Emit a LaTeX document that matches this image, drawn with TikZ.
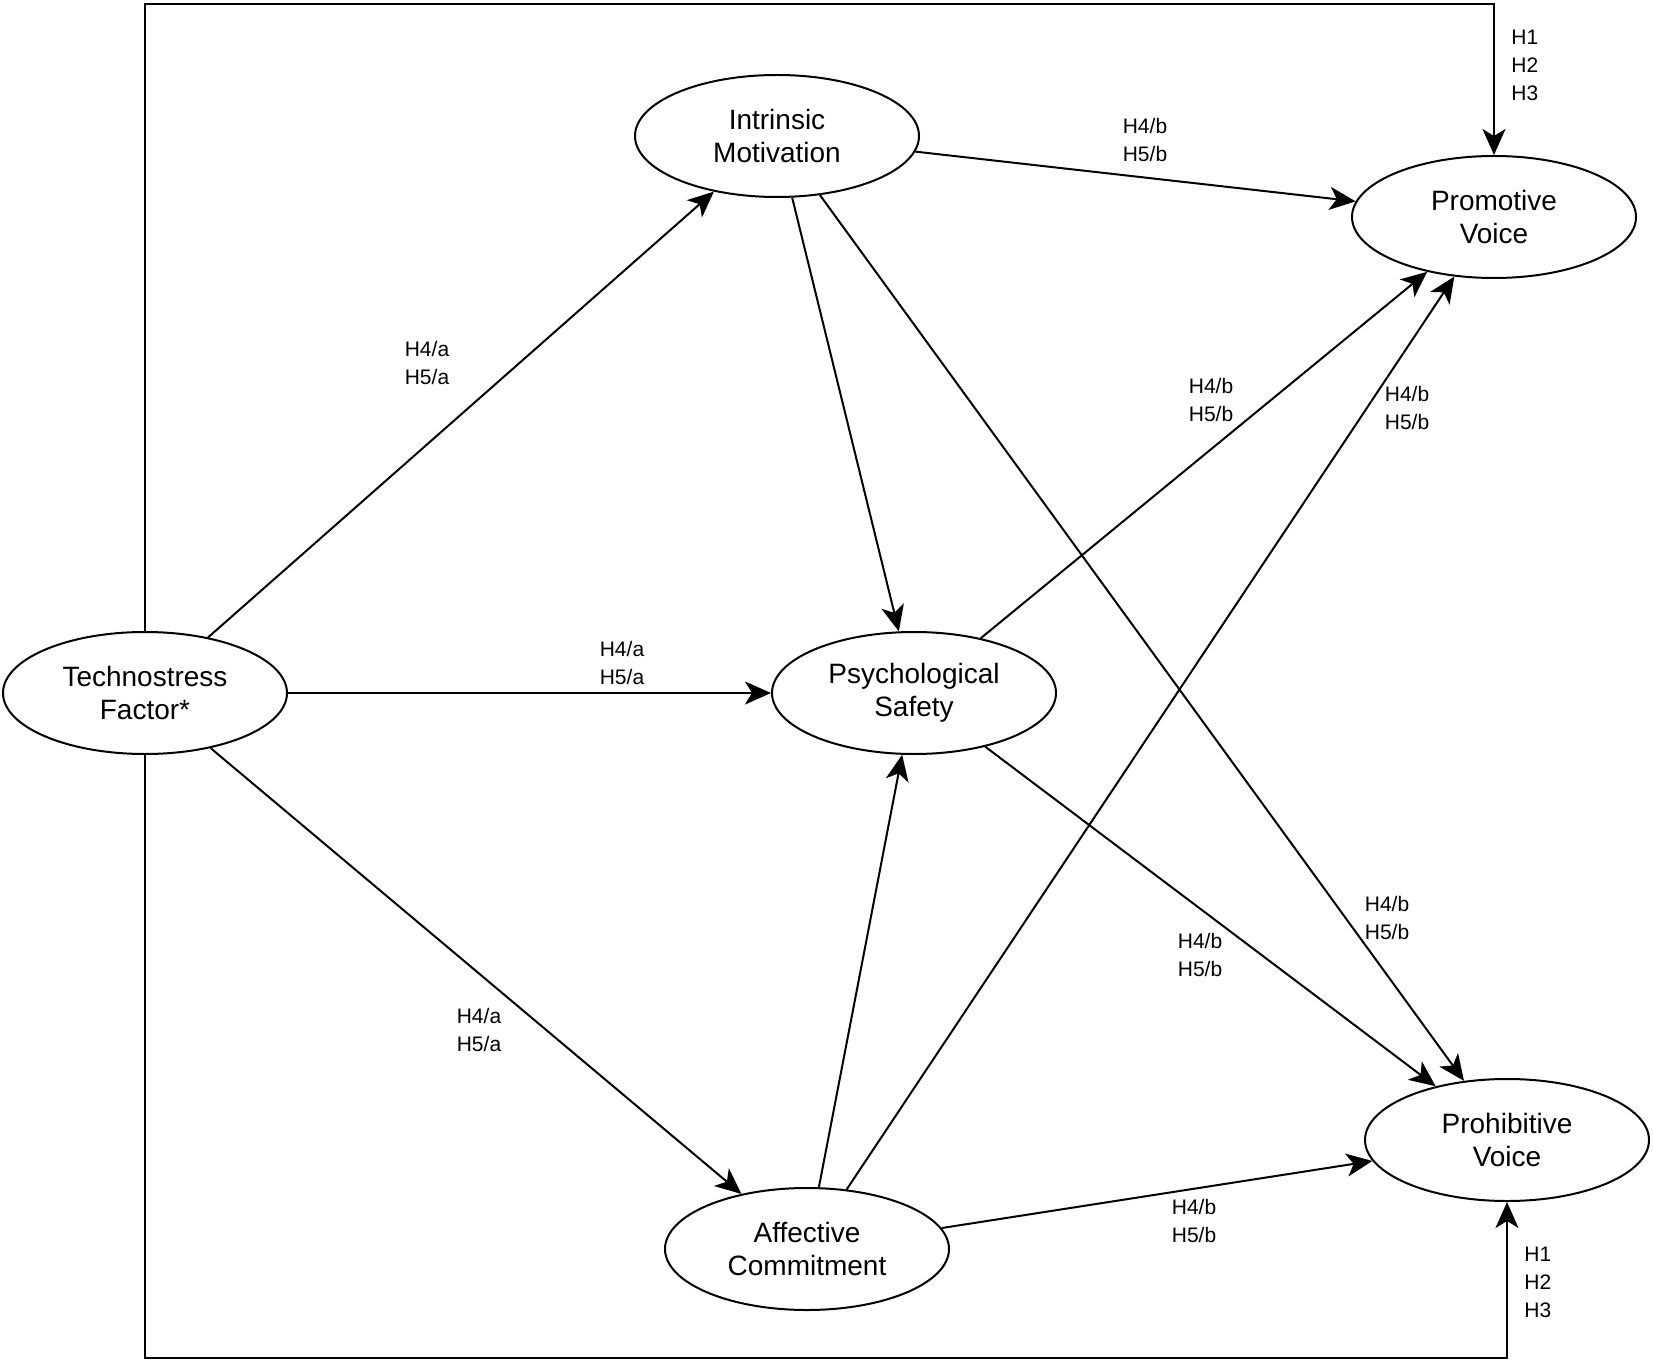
\documentclass[tikz,border=0pt]{standalone}
\usepackage{fontspec}
\setmainfont{Liberation Sans}
\usetikzlibrary{shapes.geometric,arrows.meta}

\tikzset{
    construct/.style={draw, ellipse, line width=1pt, minimum width=142pt, minimum height=61pt,
        inner sep=0pt, align=center, font=\fontsize{14}{16.5}\selectfont},
    hyplabel/.style={align=center, inner sep=0pt, font=\fontsize{10.5}{14}\selectfont},
    path/.style={line width=1pt, -{Stealth[length=13pt, width=11.5pt, inset=3.5pt]}}
}

\begin{document}
\begin{tikzpicture}[x=0.5pt, y=-0.5pt]
    \useasboundingbox (0,0) rectangle (1653,1363);
    \node[construct] (tf)  at (145,693)  {Technostress\\Factor*};
    \node[construct] (im)  at (777,136)  {Intrinsic\\Motivation};
    \node[construct] (ps)  at (914,693)  {Psychological\\Safety};
    \node[construct] (ac)  at (807,1249) {Affective\\Commitment};
    \node[construct] (pv)  at (1494,217) {Promotive\\Voice};
    \node[construct] (prv) at (1507,1140) {Prohibitive\\Voice};
    \coordinate (topleft) at (145,4);
    \coordinate (botleft) at (145,1358);

    % direct paths
    \draw [path] (tf.north) -- (topleft) -| (pv.north);
    \draw [path] (tf.south) -- (botleft) -| (prv.south);

    % a paths
    \draw [path] (tf) -- (im);
    \draw [path] (tf) -- (ps);
    \draw [path] (tf) -- (ac);

    % b paths
    \draw [path] (im) -- (pv);
    \draw [path] (im) -- (ps);
    \draw [path] (im) -- (prv);
    \draw [path] (ac) -- (ps);
    \draw [path] (ac) -- (pv);
    \draw [path] (ac) -- (prv);
    \draw [path] (ps) -- (pv);
    \draw [path] (ps) -- (prv);

    % labels
    \node[hyplabel, anchor=west] (htop) at (1511,65)   {H1\\H2\\H3};
    \node[hyplabel, anchor=west] (hbot) at (1524,1282) {H1\\H2\\H3};
    \node[hyplabel] (la1) at (427,363)   {H4/a\\H5/a};
    \node[hyplabel] (la2) at (622,663)   {H4/a\\H5/a};
    \node[hyplabel] (la3) at (479,1030)  {H4/a\\H5/a};
    \node[hyplabel] (lb1) at (1145,140)  {H4/b\\H5/b};
    \node[hyplabel] (lb2) at (1211,400)  {H4/b\\H5/b};
    \node[hyplabel] (lb3) at (1407,408)  {H4/b\\H5/b};
    \node[hyplabel] (lb4) at (1387,918)  {H4/b\\H5/b};
    \node[hyplabel] (lb5) at (1200,955)  {H4/b\\H5/b};
    \node[hyplabel] (lb6) at (1194,1221) {H4/b\\H5/b};
\end{tikzpicture}
\end{document}
